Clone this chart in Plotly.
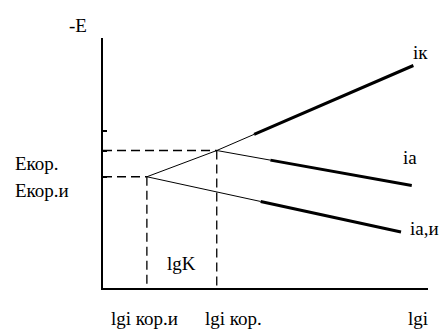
import numpy as np
import plotly.graph_objects as go

# Corrosion potentials / currents (arbitrary units: x = lg i, y = -E)
lgi_kor_i = 1.35   # lg i кор.и (with inhibitor)
lgi_kor = 3.5      # lg i кор.
E_kor_i = 4.45     # E кор.и
E_kor = 5.5        # E кор.
y_ticks = [E_kor_i, E_kor, 6.3]

# Polarisation curves: lg i values and -E values
ik_x = [lgi_kor_i, lgi_kor, 9.55]
ik_y = [E_kor_i, E_kor, 8.9]
ia_x = [lgi_kor, 9.5]
ia_y = [E_kor, 4.1]
iai_x = [lgi_kor_i, 9.17]
iai_y = [E_kor_i, 2.24]

# lg i at which each curve becomes the measured (bold) Tafel part
ik_bold_from = 4.65
ia_bold_from = 5.15
iai_bold_from = 4.85

X_RANGE = [0, 10]
Y_RANGE = [0, 10]
FONT = "Liberation Serif, DejaVu Serif, serif"
fig = go.Figure()


def add_curve(xs, ys, x_bold):
    xs = np.asarray(xs, float)
    ys = np.asarray(ys, float)
    yb = float(np.interp(x_bold, xs, ys))
    thin_x = list(xs[xs < x_bold]) + [x_bold]
    thin_y = list(ys[xs < x_bold]) + [yb]
    bold_x = [x_bold] + list(xs[xs > x_bold])
    bold_y = [yb] + list(ys[xs > x_bold])
    fig.add_trace(go.Scatter(x=thin_x, y=thin_y, mode="lines",
                             line=dict(color="black", width=1), showlegend=False))
    fig.add_trace(go.Scatter(x=bold_x, y=bold_y, mode="lines",
                             line=dict(color="black", width=3), showlegend=False))


add_curve(ik_x, ik_y, ik_bold_from)
add_curve(ia_x, ia_y, ia_bold_from)
add_curve(iai_x, iai_y, iai_bold_from)

# Dashed projections of the corrosion points onto the axes
for xc, yc in [(lgi_kor_i, E_kor_i), (lgi_kor, E_kor)]:
    fig.add_trace(go.Scatter(x=[0, xc, None, xc, xc], y=[yc, yc, None, yc, 0],
                             mode="lines", showlegend=False,
                             line=dict(color="black", width=1.3, dash="9px,5px")))

# Labels, placed in axis units and converted to paper fractions so that
# the ones outside the plotting area are still drawn
labels = [
    dict(text="-E", x=-0.77, y=10.48, xanchor="center"),
    dict(text="iк", x=9.78, y=9.4, xanchor="center"),
    dict(text="iа", x=9.45, y=5.24, xanchor="center"),
    dict(text="iа,и", x=9.38, y=2.4, xanchor="left"),
    dict(text="Eкор.", x=-2.77, y=5.0, xanchor="left"),
    dict(text="Eкор.и", x=-2.77, y=3.92, xanchor="left"),
    dict(text="lgK", x=(lgi_kor_i + lgi_kor) / 2, y=1.0, xanchor="center"),
    dict(text="lgi кор.и", x=1.29, y=-1.2, xanchor="center"),
    dict(text="lgi кор.", x=3.08, y=-1.2, xanchor="left"),
    dict(text="lgi", x=9.69, y=-1.2, xanchor="center"),
]
for lb in labels:
    px = (lb.pop("x") - X_RANGE[0]) / (X_RANGE[1] - X_RANGE[0])
    py = (lb.pop("y") - Y_RANGE[0]) / (Y_RANGE[1] - Y_RANGE[0])
    fig.add_annotation(xref="paper", yref="paper", x=px, y=py, showarrow=False,
                       yanchor="middle",
                       font=dict(family=FONT, size=19, color="black"), **lb)

axis_common = dict(showgrid=False, zeroline=False, showline=True,
                   linecolor="black", linewidth=1.5, mirror=False)
fig.update_layout(
    width=442, height=329,
    margin=dict(l=103, r=14, t=38, b=41),
    paper_bgcolor="white", plot_bgcolor="white",
    xaxis=dict(**axis_common, range=X_RANGE, showticklabels=False, ticks=""),
    yaxis=dict(**axis_common, range=Y_RANGE, showticklabels=False, ticks="inside",
               tickvals=y_ticks, ticklen=4, tickwidth=1.5, tickcolor="black"),
)

fig.write_html("out.html")
